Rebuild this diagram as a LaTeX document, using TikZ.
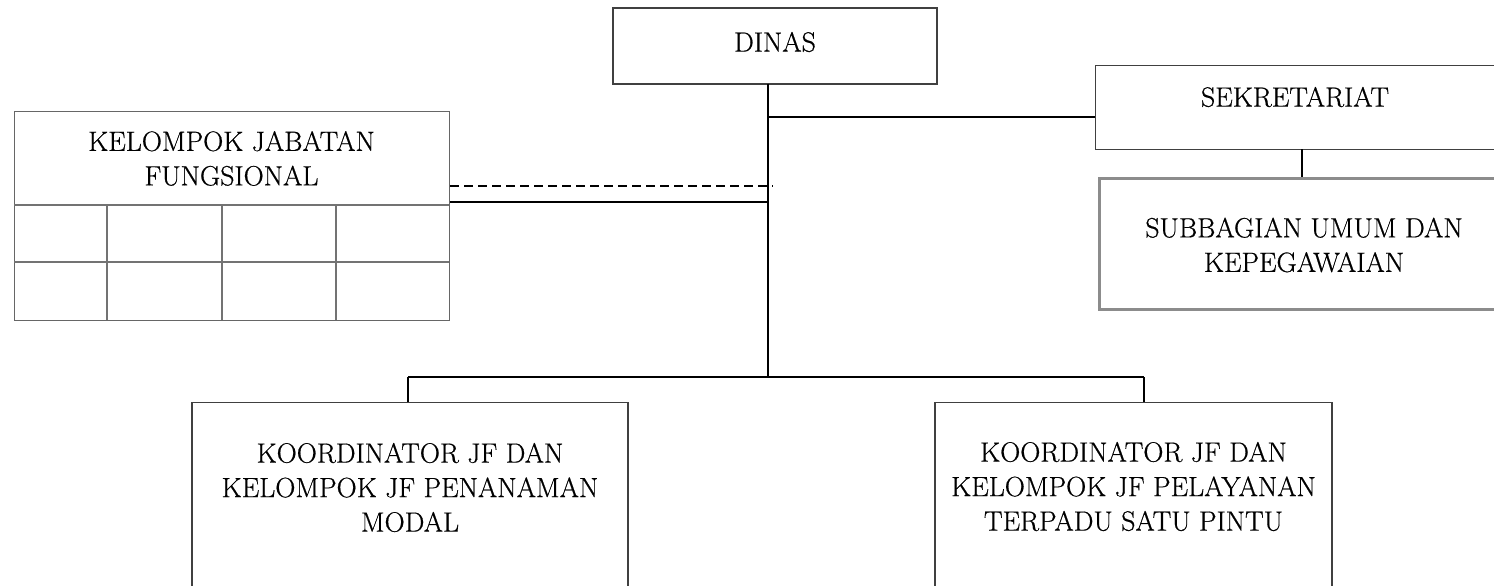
\documentclass[tikz,border=0pt]{standalone}
\usepackage{fontspec}
\setmainfont{Latin Modern Roman}[FakeBold=0.6]
\begin{document}
\begin{tikzpicture}[x=1pt,y=-1pt,
  box/.style={draw=black!75,line width=1.3pt,fill=white,inner sep=0pt},
  grid/.style={draw=black!55,line width=1.6pt},
  txt/.style={align=center,inner sep=0pt,font=\fontsize{27.9}{34.5}\selectfont},
  link/.style={draw=black,line width=2.6pt},
  dlink/.style={draw=black,line width=1.6pt,dash pattern=on 9pt off 5pt}]
\useasboundingbox (0,0) rectangle (1494,586);
\clip (0,0) rectangle (1494,586);

% head of the office
\node[box,minimum width=324pt,minimum height=76pt] (dinas) at (775,46) {};
\node[txt] (tdinas) at (775,42) {DINAS};

% secretariat and its subdivision
\node[box,minimum width=400pt,minimum height=84pt,anchor=north west] (sek) at (1095,65) {};
\node[txt] (tsek) at (1295,97) {SEKRETARIAT};
\node[box,draw=black!45,line width=3pt,minimum width=420pt,minimum height=131pt,anchor=north west] (sub) at (1098,177) {};
\node[txt] (tsub) at (1304,245) {SUBBAGIAN UMUM DAN\\KEPEGAWAIAN};

% functional position group with its grid
\node[box,draw=black!60,minimum width=435pt,minimum height=209pt,anchor=north west] (kjf) at (14,111) {};
\node[txt] (tkjf) at (231.5,158.5) {KELOMPOK JABATAN\\FUNGSIONAL};
\draw[grid] (14,205) -- (449,205) (14,262) -- (449,262)
  (107,205) -- (107,320) (222,205) -- (222,320) (336,205) -- (336,320);

% coordinators
\node[box,minimum width=436pt,minimum height=260pt,anchor=north] (pm) at (410,402) {};
\node[txt] (tpm) at (410,487.5) {KOORDINATOR JF DAN\\KELOMPOK JF PENANAMAN\\MODAL};
\node[box,minimum width=397pt,minimum height=260pt,anchor=north] (ptsp) at (1133.5,402) {};
\node[txt] (tptsp) at (1133.5,486.5) {KOORDINATOR JF DAN\\KELOMPOK JF PELAYANAN\\TERPADU SATU PINTU};

% connectors
\coordinate (top) at (768,84);
\coordinate (bus) at (768,377);
\coordinate (busl) at (408,377);
\coordinate (busr) at (1144,377);
\coordinate (sekj) at (768,117);
\coordinate (kjfj) at (768,202);
\coordinate (kjfd) at (773,186);
\draw[link] (top) -- (bus);
\draw[link] (sekj) -- (sekj -| sek.west);
\draw[link] (kjfj) -- (kjfj -| kjf.east);
\draw[dlink] (kjfd -| kjf.east) -- (kjfd);
\draw[link] (busl) -- (busr);
\draw[link] (busl) -- (busl |- pm.north);
\draw[link] (busr) -- (busr |- ptsp.north);
\draw[link] (1302,149) -- (sub.north -| 1302,0);
\end{tikzpicture}
\end{document}
